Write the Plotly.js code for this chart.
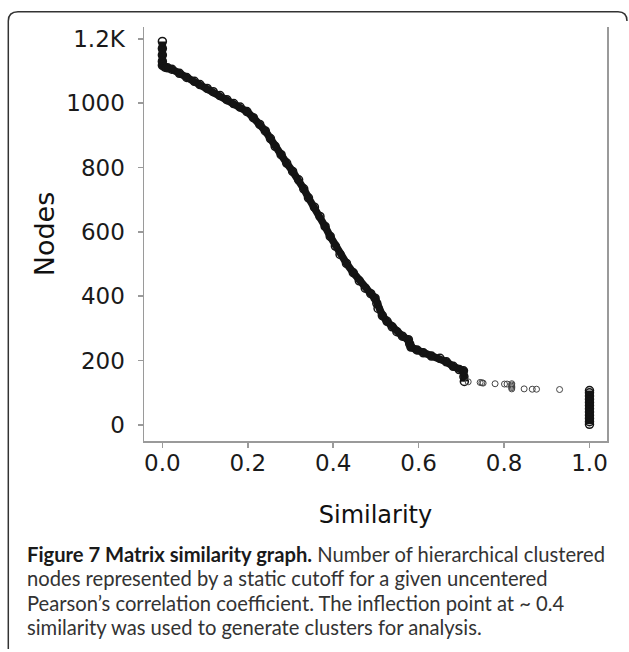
<!DOCTYPE html>
<html>
<head>
<meta charset="utf-8">
<script src="https://cdn.plot.ly/plotly-3.0.1.min.js"></script>
<style>html,body{margin:0;padding:0;background:#fff;}#chart{width:629px;height:652px;}</style>
</head>
<body>
<div id="chart"></div>
<script>
// Main dense curve (similarity cutoff, number of nodes)
const curveX = [0, 0, 0, 0, 0, 0.006, 0.012, 0.022, 0.040, 0.057, 0.075, 0.088, 0.105, 0.119, 0.135, 0.151, 0.167, 0.182, 0.198, 0.213, 0.228, 0.241, 0.253, 0.264, 0.278, 0.291, 0.305, 0.319, 0.331, 0.342, 0.356, 0.369, 0.381, 0.393, 0.405, 0.416, 0.431, 0.447, 0.461, 0.475, 0.488, 0.498, 0.502, 0.505, 0.515, 0.526, 0.538, 0.549, 0.562, 0.576, 0.579, 0.582, 0.596, 0.611, 0.630, 0.650, 0.665, 0.681, 0.695, 0.705, 0.706, 0.707];
const curveY = [1192, 1170, 1150, 1130, 1118, 1112, 1110, 1106, 1093, 1080, 1068, 1058, 1046, 1036, 1024, 1011, 999, 988, 974, 955, 934, 914, 890, 866, 840, 814, 788, 762, 734, 706, 677, 648, 617, 586, 556, 530, 502, 473, 448, 425, 408, 394, 378, 362, 340, 322, 305, 290, 276, 265, 252, 242, 233, 224, 214, 207, 196, 182, 172, 168, 150, 135];
// Sparse points between 0.71 and 0.93
const sparseX = [0.716, 0.744, 0.748, 0.751, 0.779, 0.801, 0.807, 0.818, 0.818, 0.818, 0.818, 0.818, 0.847, 0.866, 0.876, 0.930];
const sparseY = [134, 132, 131, 130, 128, 127, 127, 128, 124, 120, 116, 112, 112, 111, 111, 110];
// Column at similarity 1.0
const endX = [1, 1, 1, 1, 1, 1, 1, 1, 1, 1, 1, 1];
const endY = [2, 10, 20, 30, 40, 50, 60, 70, 80, 90, 100, 107];
// Axis ticks
const yTickVals = [0, 200, 400, 600, 800, 1000, 1200];
const yTickText = ['0', '200', '400', '600', '800', '1000', '1.2K'];
const xTickVals = [0, 0.2, 0.4, 0.6, 0.8, 1.0];
const xTickText = ['0.0', '0.2', '0.4', '0.6', '0.8', '1.0'];
const captionLines = [
  '<b style="color:#1a1a1a">Figure 7 Matrix similarity graph.</b> Number of hierarchical clustered',
  'nodes represented by a static cutoff for a given uncentered',
  'Pearson\u2019s correlation coefficient. The inflection point at ~ 0.4',
  'similarity was used to generate clusters for analysis.'
];

const W = 629, H = 652, L = 144, R = 607, T = 27, B = 441;
const px = v => (v - L) / (R - L);
const py = v => (B - v) / (B - T);

const traces = [
  {x: curveX, y: curveY, type: 'scatter', mode: 'lines+markers',
   line: {color: '#141414', width: 7.5}, marker: {symbol: 'circle-open', size: 8, color: '#141414', line: {width: 1.5}},
   showlegend: false},
  {x: sparseX, y: sparseY, type: 'scatter', mode: 'markers',
   marker: {symbol: 'circle-open', size: 6, color: '#444', line: {width: 1}}, showlegend: false},
  {x: endX, y: endY, type: 'scatter', mode: 'lines+markers',
   line: {color: '#141414', width: 7.5}, marker: {symbol: 'circle-open', size: 8, color: '#141414', line: {width: 1.5}},
   showlegend: false}
];

const axFont = 'DejaVu Sans, Liberation Sans, sans-serif';
const capFont = {family: 'Lato, sans-serif', size: 20.2, color: '#333'};

const annotations = captionLines.map((t, i) => ({
  xref: 'paper', yref: 'paper', x: px(26), y: py(567 + i * 24.4), xanchor: 'left', yanchor: 'bottom',
  align: 'left', showarrow: false, font: capFont, text: t, borderpad: 0
}));

const layout = {
  width: W, height: H,
  margin: {l: L, r: W - R, t: T, b: H - B, pad: 0},
  paper_bgcolor: '#fff', plot_bgcolor: '#fff',
  showlegend: false,
  xaxis: {
    range: [-0.043, 1.041], tickvals: xTickVals, ticktext: xTickText,
    showgrid: false, zeroline: false, showline: true, linecolor: '#9a9a9a', linewidth: 1.5, mirror: false,
    ticks: 'outside', ticklen: 5, tickwidth: 1.5, tickcolor: '#9a9a9a',
    tickfont: {family: axFont, size: 23, color: '#1a1a1a'},
    ticklabelstandoff: -4,
    title: {text: 'Similarity', font: {family: axFont, size: 24, color: '#111'}, standoff: 31}
  },
  yaxis: {
    range: [-50, 1237], tickvals: yTickVals, ticktext: yTickText,
    showgrid: false, zeroline: false, showline: true, linecolor: '#9a9a9a', linewidth: 1.5, mirror: true,
    ticks: 'outside', ticklen: 5, tickwidth: 1.5, tickcolor: '#9a9a9a',
    tickfont: {family: axFont, size: 23, color: '#1a1a1a'}, ticklabelstandoff: 8,
    title: {text: 'Nodes', font: {family: axFont, size: 27, color: '#111'}, standoff: 4}
  },
  shapes: [
    {type: 'path', xref: 'paper', yref: 'paper',
     path: 'M ' + px(8.3) + ',' + py(649) + ' L ' + px(8.3) + ',' + py(21) +
           ' Q ' + px(8.3) + ',' + py(11.7) + ' ' + px(18) + ',' + py(11.7) +
           ' L ' + px(618) + ',' + py(11.7) +
           ' Q ' + px(627) + ',' + py(11.7) + ' ' + px(627) + ',' + py(21),
     line: {color: '#333', width: 1.5}}
  ],
  annotations: annotations
};

Plotly.newPlot('chart', traces, layout, {displayModeBar: false, staticPlot: true});
</script>
</body>
</html>
